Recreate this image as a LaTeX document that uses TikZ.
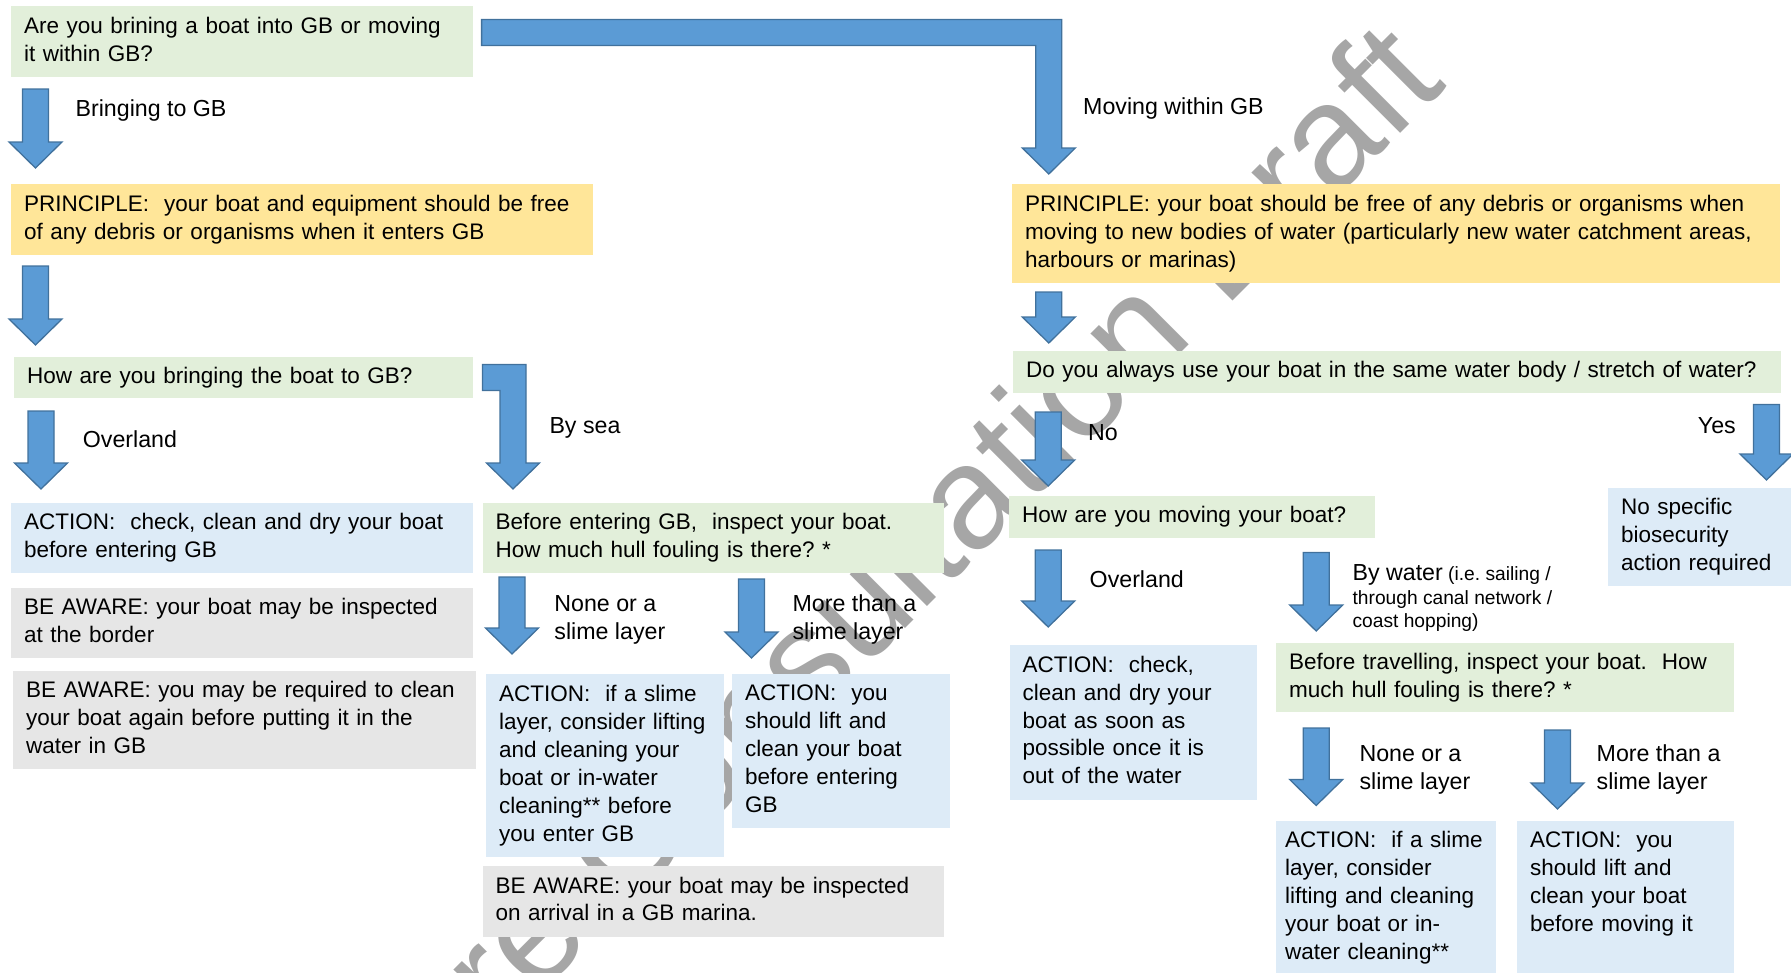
\documentclass[tikz,border=0pt]{standalone}
\usepackage{fontspec}
\setmainfont{Liberation Sans}
\usepackage{tikz}
\usetikzlibrary{positioning}
\usetikzlibrary{calc}
\frenchspacing
\hyphenpenalty=10000

\definecolor{qgreen}{HTML}{E2EFDA}
\definecolor{pyellow}{HTML}{FFE699}
\definecolor{ablue}{HTML}{DDEBF7}
\definecolor{wgray}{HTML}{E6E6E6}
\definecolor{arrowfill}{HTML}{5B9BD5}
\definecolor{arrowline}{HTML}{41719C}

\newcommand{\boxfont}{\fontsize{22.5}{27.9}\selectfont}
\newcommand{\lblfont}{\fontsize{23.2}{27.9}\selectfont}
\newcommand{\notefont}{\fontsize{19.2}{23.4}\selectfont}
\newcommand{\markfont}{\fontsize{146}{150}\selectfont}

% block arrow pointing down: top centre #1, tip #2
\newcommand{\blockdown}[2]{%
  \draw[blockarrow] let \p1=(#1), \p2=(#2) in
    (\x1-13pt,\y1) -- (\x1+13pt,\y1) -- (\x1+13pt,\y2+26pt) -- (\x1+26.5pt,\y2+26pt)
    -- (\x2,\y2) -- (\x1-26.5pt,\y2+26pt) -- (\x1-13pt,\y2+26pt) -- cycle;}
% bent block arrow: left end of the bar #1, tip #2
\newcommand{\blockbent}[2]{%
  \draw[blockarrow] let \p1=(#1), \p2=(#2) in
    (\x1,\y1+13pt) -- (\x2+13pt,\y1+13pt) -- (\x2+13pt,\y2+26pt) -- (\x2+26.5pt,\y2+26pt)
    -- (\x2,\y2) -- (\x2-26.5pt,\y2+26pt) -- (\x2-13pt,\y2+26pt) -- (\x2-13pt,\y1-13pt)
    -- (\x1,\y1-13pt) -- cycle;}

\tikzset{box/.style={ % Sets the properties for each text box
      anchor=north west,
      inner xsep=13pt, inner ysep=0pt,
      align=left, font=\boxfont,
      execute at begin node=\strut, execute at end node=\strut},
      question/.style={box, fill=qgreen},
      principle/.style={box, fill=pyellow},
      action/.style={box, fill=ablue},
      aware/.style={box, fill=wgray},
      lbl/.style={ % Text beside an arrow
      anchor=west, inner sep=0pt, align=left, font=\lblfont,
      execute at begin node=\strut, execute at end node=\strut},
      blockarrow/.style={fill=arrowfill, draw=arrowline, line width=1.3pt},
      watermark/.style={rotate=45, text=black!35, font=\markfont, inner sep=0pt}}

\begin{document}
\begin{tikzpicture}[x=1pt, y=-1pt] % one unit is one pixel, y runs downwards
  \useasboundingbox (0,0) rectangle (1791,972);
  \node[watermark] (mark) at (904,556) {Pre Consultation Draft};

  % bringing a boat into GB
  \node[question, text width=436pt, minimum height=71pt] (q1) at (11,6) {Are you brining a boat into GB or moving\\it within GB?};
  \node[principle, text width=556pt, minimum height=71pt] (pl) at (11,184) {PRINCIPLE:~ your boat and equipment should be free\\of any debris or organisms when it enters GB};
  \node[question, text width=433pt, minimum height=41pt] (hb) at (14,357) {How are you bringing the boat to GB?};
  \node[action, text width=436pt, minimum height=70pt] (al) at (11,503) {ACTION:~ check, clean and dry your boat\\before entering GB};
  \node[aware, text width=436pt, minimum height=70pt] (ba1) at (11,587.5) {BE AWARE: your boat may be inspected\\at the border};
  \node[aware, text width=437pt, minimum height=98pt] (ba2) at (13,671) {BE AWARE: you may be required to clean\\your boat again before putting it in the\\water in GB};
  \node[question, text width=435.5pt, minimum height=70pt] (bs) at (482.5,503) {Before entering GB,~ inspect your boat.\\How much hull fouling is there? *};
  \node[action, text width=212pt, minimum height=183pt] (as1) at (486,674) {ACTION:~ if a slime\\layer, consider lifting\\and cleaning your\\boat or in-water\\cleaning** before\\you enter GB};
  \node[action, text width=192pt, minimum height=154pt] (ay1) at (732,674) {ACTION:~ you\\should lift and\\clean your boat\\before entering\\GB};
  \node[aware, text width=435.5pt, minimum height=70.5pt] (ba3) at (482.5,866) {BE AWARE: your boat may be inspected\\on arrival in a GB marina.};

  % moving a boat within GB
  \node[principle, text width=742pt, minimum height=99pt] (pr) at (1012,184) {PRINCIPLE: your boat should be free of any debris or organisms when\\moving to new bodies of water (particularly new water catchment areas,\\harbours or marinas)};
  \node[question, text width=741.5pt, minimum height=41.5pt] (da) at (1013,351) {Do you always use your boat in the same water body / stretch of water?};
  \node[action, text width=164pt, minimum height=98pt] (ns) at (1608,488) {No specific\\biosecurity\\action required};
  \node[question, text width=340pt, minimum height=41.5pt] (hm) at (1009,496) {How are you moving your boat?};
  \node[action, text width=221.5pt, minimum height=154.5pt] (ac) at (1009.5,645) {ACTION:~ check,\\clean and dry your\\boat as soon as\\possible once it is\\out of the water};
  \node[question, text width=432pt, minimum height=69pt] (bt) at (1276,643) {Before travelling, inspect your boat.~ How\\much hull fouling is there? *};
  \node[action, inner xsep=9pt, text width=202pt, minimum height=154pt] (as2) at (1276,821) {ACTION:~ if a slime\\layer, consider\\lifting and cleaning\\your boat or in-\\water cleaning**};
  \node[action, text width=191pt, minimum height=154pt] (ay2) at (1517,821) {ACTION:~ you\\should lift and\\clean your boat\\before moving it\\~};

  % arrow ends
  \coordinate (t0) at (481.6,32.5);   \coordinate (t1) at (1048.8,174);
  \coordinate (a1s) at (35.5,89);     \coordinate (a1e) at (35.5,168);
  \coordinate (a2s) at (35.5,266);    \coordinate (a2e) at (35.5,345);
  \coordinate (a3s) at (41,411);      \coordinate (a3e) at (41,489);
  \coordinate (b0) at (482.5,377.5);  \coordinate (b1) at (513,489);
  \coordinate (a5s) at (512,577);     \coordinate (a5e) at (512,654);
  \coordinate (a6s) at (751.5,579);   \coordinate (a6e) at (751.5,658);
  \coordinate (a7s) at (1048.8,292);  \coordinate (a7e) at (1048.8,343);
  \coordinate (a8s) at (1048.2,412);  \coordinate (a8e) at (1048.2,486);
  \coordinate (a9s) at (1766.5,404.5);\coordinate (a9e) at (1766.5,480);
  \coordinate (a10s) at (1048.2,550); \coordinate (a10e) at (1048.2,627);
  \coordinate (a11s) at (1316.2,552.5);\coordinate (a11e) at (1316.2,631);
  \coordinate (a12s) at (1316.2,728); \coordinate (a12e) at (1316.2,805.5);
  \coordinate (a13s) at (1557.5,730); \coordinate (a13e) at (1557.5,809);

  \blockbent{t0}{t1}
  \blockbent{b0}{b1}
  \foreach \s/\e in {a1s/a1e, a2s/a2e, a3s/a3e, a5s/a5e, a6s/a6e, a7s/a7e,
      a8s/a8e, a9s/a9e, a10s/a10e, a11s/a11e, a12s/a12e, a13s/a13e}
    \blockdown{\s}{\e};

  % arrow labels
  \node[lbl] (l1) at (75.4,111) {Bringing to GB};
  \node[lbl] (l2) at (1083,109) {Moving within GB};
  \node[lbl] (l3) at (82.7,441.5) {Overland};
  \node[lbl] (l4) at (549.3,428) {By sea};
  \node[lbl] (l5) at (554.2,621.4) {None or a\\slime layer};
  \node[lbl] (l6) at (792.4,621) {More than a\\slime layer};
  \node[lbl] (l7) at (1087.9,435) {No};
  \node[lbl, anchor=east] (l8) at (1736,427.5) {Yes};
  \node[lbl] (l9) at (1089.5,582) {Overland};
  \node[lbl, font=\notefont] (l10) at (1352.4,599.6) {{\lblfont By water} (i.e. sailing /\\through canal network /\\coast hopping)};
  \node[lbl] (l11) at (1359.3,771.8) {None or a\\slime layer};
  \node[lbl] (l12) at (1596.5,771) {More than a\\slime layer};
\end{tikzpicture}
\end{document}
